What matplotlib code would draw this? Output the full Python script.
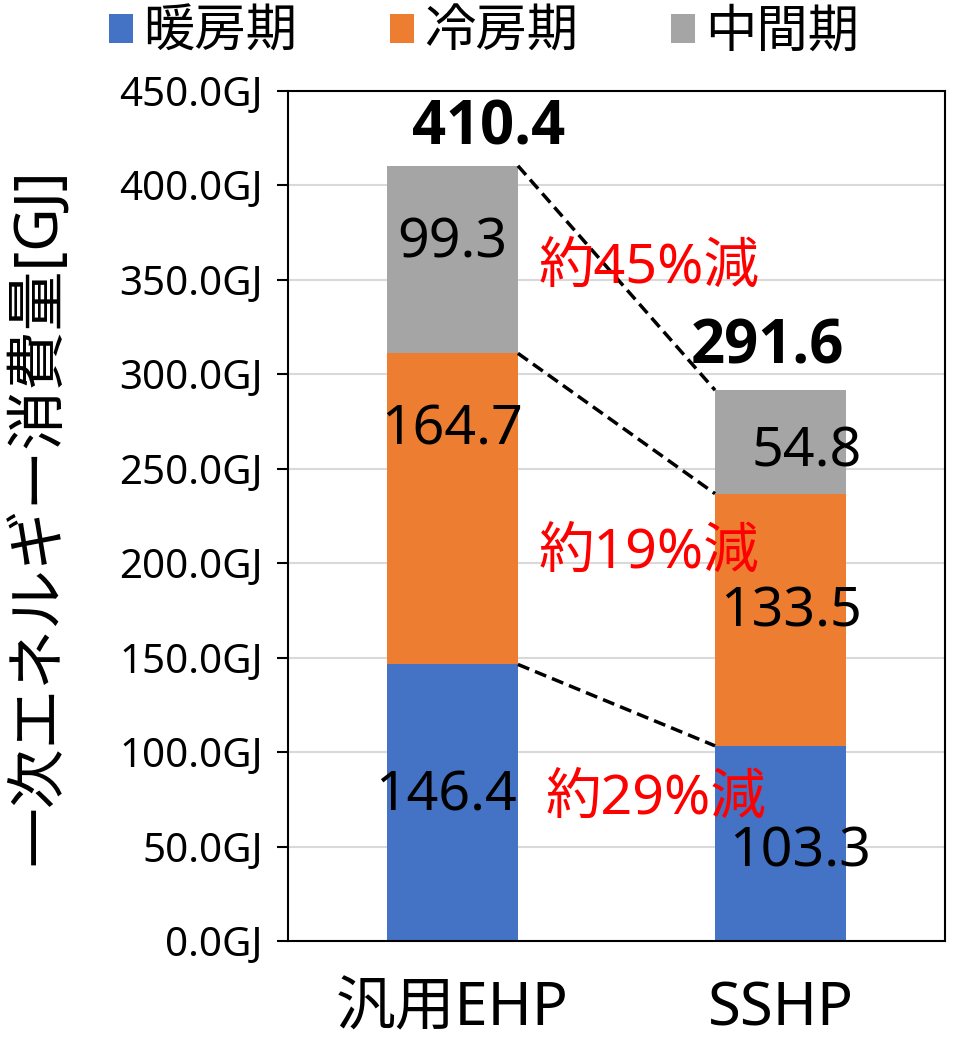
import matplotlib
matplotlib.use("Agg")
import matplotlib.pyplot as plt
from matplotlib.patches import Patch

plt.rcParams['font.family'] = ['Noto Sans', 'Noto Sans CJK JP', 'DejaVu Sans']

systems = ['汎用EHP', 'SSHP']
series_names = ['暖房期', '冷房期', '中間期']
heating = [146.4, 103.3]
cooling = [164.7, 133.5]
middle = [99.3, 54.8]
colors = ['#4472C4', '#ED7D31', '#A5A5A5']

# where the segment value labels sit (x in category units, y in GJ)
label_x = [[-0.02, 1.06], [0.0, 1.03], [0.0, 1.08]]
label_y = [[77, 47], [270.5, 174], [369.5, 259]]
total_xy = [(0.11, 430), (0.96, 314)]
cut_xy = [(0.62, 75), (0.60, 205), (0.60, 356)]

fig = plt.figure(figsize=(9.59, 10.41), dpi=100)
ax = fig.add_axes([0.3003, 0.0961, 0.6851, 0.8165])

xs = range(len(systems))
bottoms = [0, 0]
layers = [heating, cooling, middle]
tops = []
for vals, c in zip(layers, colors):
    ax.bar(xs, vals, width=0.4, bottom=bottoms, color=c, zorder=2)
    bottoms = [b + v for b, v in zip(bottoms, vals)]
    tops.append(bottoms)

for i, vals in enumerate(layers):
    for j, v in enumerate(vals):
        ax.text(label_x[i][j], label_y[i][j], f'{v:.1f}', ha='center', va='center',
                fontsize=40, color='black', zorder=4)

totals = tops[-1]
for (tx, ty), t in zip(total_xy, totals):
    ax.text(tx, ty, f'{t:.1f}', ha='center', va='center', fontsize=43,
            family=['Open Sans', 'DejaVu Sans'], fontweight='bold', zorder=4)

# dashed connectors between the stacks and the reduction rates
for i, top in enumerate(tops):
    ax.plot([0.2, 0.8], [top[0], top[1]], ls=(0, (3.5, 1.8)), color='black',
            lw=2.5, zorder=3)
    rate = round((1 - layers[i][1] / layers[i][0]) * 100)
    ax.text(cut_xy[i][0], cut_xy[i][1], f'約{rate}%減', ha='center', va='center',
            fontsize=40, color='#FF0000', zorder=4)

ax.set_xlim(-0.5, 1.5)
ax.set_ylim(0, 450)
ax.set_yticks(range(0, 451, 50))
ax.set_yticklabels([f'{v:.1f}GJ' for v in range(0, 451, 50)], fontsize=29)
ax.set_xticks(list(xs))
ax.set_xticklabels(systems, fontsize=43)
ax.tick_params(axis='x', length=0, pad=28)
ax.tick_params(axis='y', length=8, width=1.5, direction='out', pad=10)
ax.yaxis.grid(True, color='#D9D9D9', lw=1.5, zorder=0)
ax.set_axisbelow(True)
for s in ax.spines.values():
    s.set_color('black')
    s.set_linewidth(1.5)
ax.set_ylabel('一次エネルギー消費量[GJ]', fontsize=43)
ax.yaxis.set_label_coords(-0.332, 0.499)

handles = [Patch(facecolor=c, label=n) for n, c in zip(series_names, colors)]
fig.legend(handles=handles, loc='center', bbox_to_anchor=(0.505, 0.968), ncol=3,
           frameon=False, fontsize=37, handlelength=0.47, handleheight=0.47,
           handletextpad=0.2, columnspacing=1.8)

fig.savefig('out.png', dpi=100)
